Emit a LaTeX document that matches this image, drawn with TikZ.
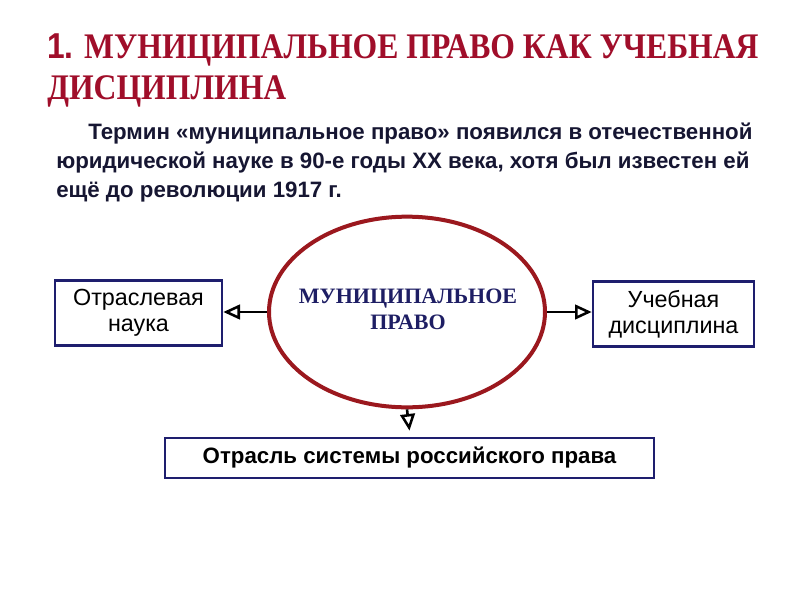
\documentclass[tikz,border=0pt]{standalone}
\usepackage{fontspec}
\setmainfont{Liberation Serif}
\setsansfont{Liberation Sans}
\usetikzlibrary{arrows.meta,shapes.geometric}
\definecolor{titlered}{RGB}{160,14,42}
\definecolor{textnavy}{RGB}{22,22,50}
\definecolor{boxnavy}{RGB}{30,30,110}
\definecolor{ellred}{RGB}{155,24,30}
\definecolor{ellnavy}{RGB}{30,30,100}
\begin{document}
\begin{tikzpicture}[x=0.75pt,y=-0.75pt,
  box/.style={draw=boxnavy,line width=2pt,fill=white,inner sep=0pt,font=\sffamily\fontsize{17.5}{19.5}\selectfont,align=center},
  titletext/.style={anchor=base west,inner sep=0pt,text=titlered,font=\fontsize{27}{27}\selectfont\bfseries},
  para/.style={anchor=base west,inner sep=0pt,text=textnavy,font=\sffamily\bfseries\fontsize{16.7}{18}\selectfont},
  conn/.style={line width=1.9pt,-{Triangle[open,length=12.5pt,width=11pt,line width=1.9pt]}}]
\useasboundingbox (0,0) rectangle (800,600);
\fill[white] (0,0) rectangle (800,600);
% title
\node[titletext] (t1) at (47,58) {\scalebox{0.88}[1]{{\sffamily 1.} МУНИЦИПАЛЬНОЕ ПРАВО КАК УЧЕБНАЯ}};
\node[titletext] (t2) at (47,99) {\scalebox{0.88}[1]{ДИСЦИПЛИНА}};
% paragraph
\node[para] (p1) at (88,139) {Термин «муниципальное право» появился в отечественной};
\node[para] (p2) at (56,168) {юридической науке в 90-е годы XX века, хотя был известен ей};
\node[para] (p3) at (56,197) {ещё до революции 1917 г.};
% ellipse
\node[draw=ellred,line width=3pt,ellipse,minimum width=207pt,minimum height=143pt,inner sep=0pt] (e) at (407,312) {};
\node[text=ellnavy,font=\bfseries\fontsize{16.5}{19.5}\selectfont,align=center] (et) at (408,309)
  {МУНИЦИПАЛЬНОЕ\\ПРАВО};
% boxes
\node[box,minimum width=125.25pt,minimum height=48.75pt] (L) at (138.5,313) {Отраслевая\\наука};
\node[box,minimum width=120.75pt,minimum height=48.75pt] (R) at (673.5,314) {Учебная\\дисциплина};
\node[box,minimum width=366.75pt,minimum height=30pt,font=\sffamily\bfseries\fontsize{16.7}{18}\selectfont] (B) at (409.5,458) {Отрасль системы российского права};
% connectors
\draw[conn] (e.west) -- (e.west -| L.east);
\draw[conn] (e.east) -- (e.east -| R.west);
\draw[conn] (e.south) -- ([yshift=4.5pt]B.north);
\end{tikzpicture}
\end{document}
